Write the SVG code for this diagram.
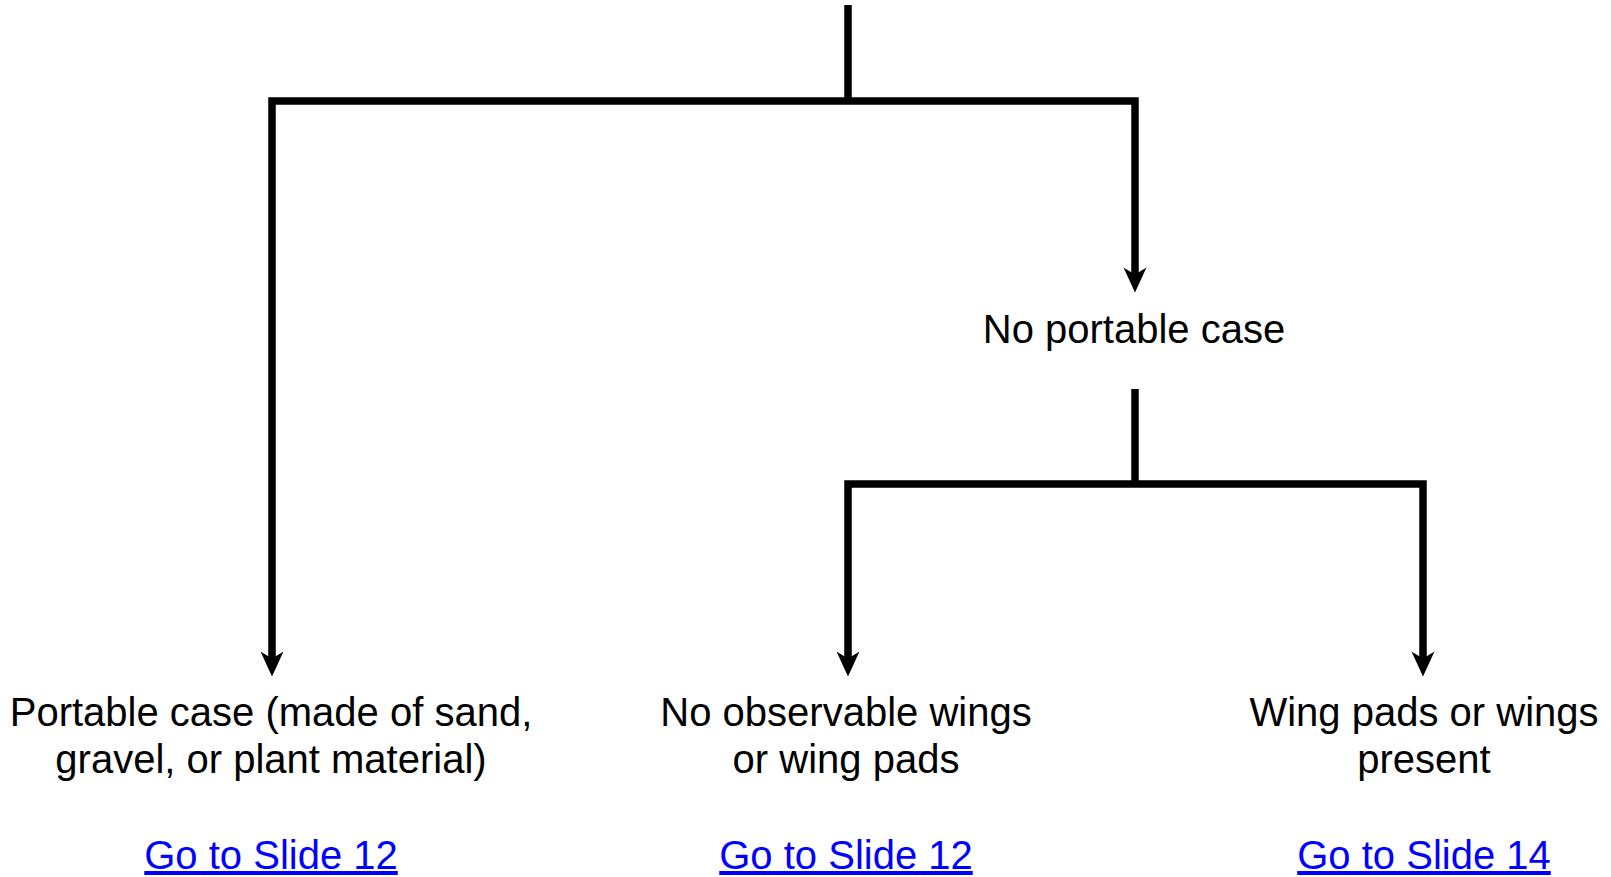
<svg xmlns="http://www.w3.org/2000/svg" width="1611" height="877" viewBox="0 0 1611 877">
<defs>
<style>
.ln{fill:none;stroke:#000;stroke-width:7.5;stroke-linejoin:miter;stroke-linecap:butt}
.ah{fill:#000}
.t{font-family:"Liberation Sans",Arial,sans-serif;font-size:40px;fill:#000;text-anchor:middle}
.lk{font-family:"Liberation Sans",Arial,sans-serif;font-size:40px;fill:#0000FF;text-anchor:middle;text-decoration:underline}
</style>
</defs>
<rect width="1611" height="877" fill="#fff"/>
<g id="connectors">
<path class="ln" d="M848,5 V101"/>
<path class="ln" d="M272,660 V101 H1135 V276"/>
<path class="ah" d="M272,676.5 L260.5,651.5 L272,658.5 L283.5,651.5 Z"/>
<path class="ah" d="M1135,292.5 L1123.5,267.5 L1135,274.5 L1146.5,267.5 Z"/>
<path class="ln" d="M1135,389 V484"/>
<path class="ln" d="M848,660 V484 H1423 V660"/>
<path class="ah" d="M848,676.5 L836.5,651.5 L848,658.5 L859.5,651.5 Z"/>
<path class="ah" d="M1423,676.5 L1411.5,651.5 L1423,658.5 L1434.5,651.5 Z"/>
</g>
<g id="node-no-portable">
<text class="t" x="1134" y="343">No portable case</text>
</g>
<g id="node-portable">
<text class="t" x="271" y="726">Portable case (made of sand,</text>
<text class="t" x="271" y="773">gravel, or plant material)</text>
<text class="lk" x="271" y="869">Go to Slide 12</text>
</g>
<g id="node-no-wings">
<text class="t" x="846" y="726">No observable wings</text>
<text class="t" x="846" y="773">or wing pads</text>
<text class="lk" x="846" y="869">Go to Slide 12</text>
</g>
<g id="node-wings">
<text class="t" x="1424" y="726">Wing pads or wings</text>
<text class="t" x="1424" y="773">present</text>
<text class="lk" x="1424" y="869">Go to Slide 14</text>
</g>
</svg>
